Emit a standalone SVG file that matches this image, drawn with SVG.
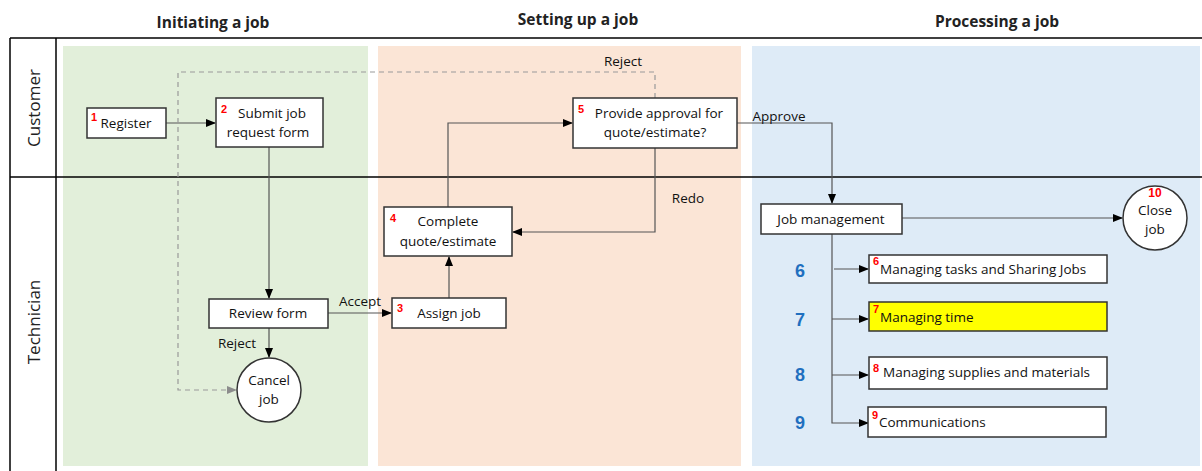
<svg xmlns="http://www.w3.org/2000/svg" width="1202" height="471" viewBox="0 0 1202 471">
<defs>
<marker id="ah" markerWidth="10" markerHeight="8" refX="9" refY="4" orient="auto" markerUnits="userSpaceOnUse"><path d="M0,0 L10,4 L0,8 z" fill="#000"/></marker>
<marker id="ahg" markerWidth="10" markerHeight="8" refX="9" refY="4" orient="auto" markerUnits="userSpaceOnUse"><path d="M0,0 L10,4 L0,8 z" fill="#8c8c8c"/></marker>
<style>
.t{font-family:"Open Sans","Liberation Sans",sans-serif;font-size:13.5px;fill:#111}
.h{font-family:"Open Sans","Liberation Sans",sans-serif;font-size:15.5px;font-weight:bold;fill:#222}
.lane{font-family:"Open Sans","Liberation Sans",sans-serif;font-size:17px;fill:#222}
.n{font-family:"Liberation Sans",sans-serif;font-size:11px;font-weight:bold;fill:#ff0000}
.b{font-family:"Liberation Sans",sans-serif;font-size:18px;font-weight:bold;fill:#1f6fbf}
.box{fill:#fff;stroke:#333;stroke-width:1.5}
.c{fill:none;stroke:#555;stroke-width:1.2;marker-end:url(#ah)}
.d{fill:none;stroke:#999;stroke-width:1.2;stroke-dasharray:5,4;marker-end:url(#ahg)}
</style>
</defs>
<rect width="1202" height="471" fill="#fff"/>
<rect x="63" y="46" width="305" height="420" fill="#e2efda"/>
<rect x="378" y="46" width="363" height="420" fill="#fbe5d6"/>
<rect x="752" y="46" width="448" height="420" fill="#deebf7"/>
<g id="frame" stroke="#000" stroke-width="1.5" fill="none">
<line x1="10" y1="38" x2="1202" y2="38"/>
<line x1="10" y1="177" x2="1202" y2="177"/>
<line x1="10" y1="38" x2="10" y2="471"/>
<line x1="56" y1="38" x2="56" y2="471"/>
</g>
<text class="h" x="213" y="28" text-anchor="middle">Initiating a job</text>
<text class="h" x="578" y="25" text-anchor="middle">Setting up a job</text>
<text class="h" x="997" y="27" text-anchor="middle">Processing a job</text>
<text class="lane" transform="translate(40,108) rotate(-90)" text-anchor="middle">Customer</text>
<text class="lane" transform="translate(40,322) rotate(-90)" text-anchor="middle">Technician</text>
<g id="connectors">
<path class="c" d="M166,123 H215"/>
<path class="c" d="M269,147 V298"/>
<path class="c" d="M328,313 H391"/>
<path class="c" d="M269,328 V357"/>
<path class="c" d="M449,298 V257"/>
<path class="c" d="M448,207 V123 H572"/>
<path class="c" d="M655,148 V232 H513"/>
<path class="d" d="M655,98 V72 H178 V390 H236"/>
<path class="c" d="M737,123 H832 V203"/>
<path class="c" d="M902,218 H1122"/>
<path class="c" d="M832,234 V423 H868"/>
<path class="c" d="M834,269 H868"/>
<path class="c" d="M832,319 H868"/>
<path class="c" d="M832,375 H868"/>
<text class="t" x="360" y="306" text-anchor="middle">Accept</text>
<text class="t" x="237" y="348" text-anchor="middle">Reject</text>
<text class="t" x="623" y="66" text-anchor="middle">Reject</text>
<text class="t" x="688" y="203" text-anchor="middle">Redo</text>
<text class="t" x="779" y="121" text-anchor="middle">Approve</text>
</g>
<g id="register"><rect class="box" x="87" y="108" width="79" height="30"/><text class="n" x="91" y="121">1</text><text class="t" x="126" y="128" text-anchor="middle">Register</text></g>
<g id="submit"><rect class="box" x="216" y="98" width="107" height="49"/><text class="n" x="221" y="113">2</text><text class="t" x="272" y="118" text-anchor="middle">Submit job</text><text class="t" x="268" y="137" text-anchor="middle">request form</text></g>
<g id="approval"><rect class="box" x="573" y="98" width="164" height="50"/><text class="n" x="578" y="113">5</text><text class="t" x="659" y="118" text-anchor="middle">Provide approval for</text><text class="t" x="655" y="137" text-anchor="middle">quote/estimate?</text></g>
<g id="complete"><rect class="box" x="384" y="207" width="128" height="49"/><text class="n" x="390" y="222">4</text><text class="t" x="448" y="226" text-anchor="middle">Complete</text><text class="t" x="448" y="246" text-anchor="middle">quote/estimate</text></g>
<g id="assign"><rect class="box" x="392" y="298" width="114" height="30"/><text class="n" x="397" y="312">3</text><text class="t" x="449" y="318" text-anchor="middle">Assign job</text></g>
<g id="review"><rect class="box" x="209" y="299" width="119" height="29"/><text class="t" x="268" y="318" text-anchor="middle">Review form</text></g>
<g id="cancel"><circle class="box" cx="269" cy="390" r="32"/><text class="t" x="269" y="385" text-anchor="middle">Cancel</text><text class="t" x="269" y="404" text-anchor="middle">job</text></g>
<g id="jobmgmt"><rect class="box" x="761" y="204" width="141" height="30"/><text class="t" x="831" y="224" text-anchor="middle">Job management</text></g>
<g id="close"><circle class="box" cx="1155" cy="218" r="32"/><text class="n" x="1155" y="197" text-anchor="middle" style="font-size:12px">10</text><text class="t" x="1155" y="215" text-anchor="middle">Close</text><text class="t" x="1155" y="234" text-anchor="middle">job</text></g>
<g id="tasks"><rect class="box" x="869" y="255" width="238" height="28"/><text class="n" x="873" y="265">6</text><text class="t" x="880" y="274">Managing tasks and Sharing Jobs</text><text class="b" x="800" y="277" text-anchor="middle">6</text></g>
<g id="time"><rect class="box" x="869" y="302" width="238" height="29" fill="#ffff00" style="fill:#ffff00"/><text class="n" x="873" y="313">7</text><text class="t" x="880" y="322">Managing time</text><text class="b" x="800" y="326" text-anchor="middle">7</text></g>
<g id="supplies"><rect class="box" x="869" y="357" width="238" height="32"/><text class="n" x="873" y="372">8</text><text class="t" x="883" y="377">Managing supplies and materials</text><text class="b" x="800" y="381" text-anchor="middle">8</text></g>
<g id="comms"><rect class="box" x="868" y="407" width="238" height="30"/><text class="n" x="872" y="419">9</text><text class="t" x="879" y="427">Communications</text><text class="b" x="800" y="429" text-anchor="middle">9</text></g>
</svg>
